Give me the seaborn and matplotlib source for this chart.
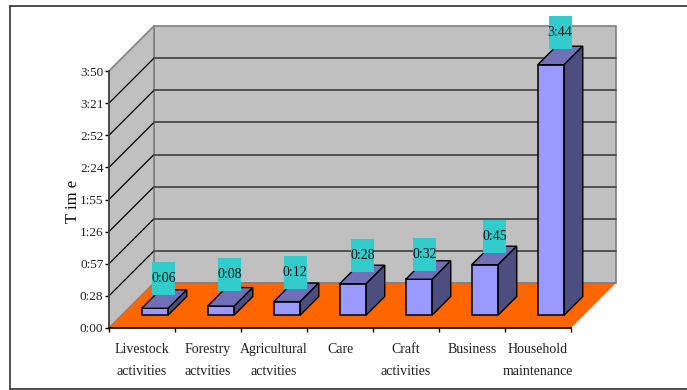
import matplotlib
matplotlib.use("Agg")
import matplotlib.pyplot as plt
from matplotlib.patches import Polygon, Rectangle
import pandas as pd
import seaborn as sns

categories = ["Livestock\nactivities", "Forestry\nactvities", "Agricultural\nactvities", "Care",
              "Craft\nactivities", "Business", "Household\nmaintenance"]
minutes = [6, 8, 12, 28, 32, 45, 224]
value_labels = ["0:06", "0:08", "0:12", "0:28", "0:32", "0:45", "3:44"]
tick_minutes = [0, 28.75, 57.5, 86.25, 115, 143.75, 172.5, 201.25, 230]
tick_labels = ["0:00", "0:28", "0:57", "1:26", "1:55", "2:24", "2:52", "3:21", "3:50"]

# Placement of each value tag relative to its bar's front top edge, in pixels
tag_shift = [8.5, 8.5, 8, 9.5, 5.5, 9.5, 9]
tag_rise = [30, 31.5, 29, 28, 24.5, 28.5, 32.5]

W, H = 687, 390
sns.set_theme(style="white")
plt.rcParams["font.family"] = ["Liberation Serif", "DejaVu Serif"]

fig = plt.figure(figsize=(W / 100, H / 100), dpi=100)
ax = fig.add_axes([109 / W, 1 - 328 / H, 462 / W, 257 / H])
frame = pd.DataFrame({"category": categories, "minutes": minutes})
sns.barplot(data=frame, x="category", y="minutes", order=categories, width=26.5 / 66,
            color="#9999FF", saturation=1, edgecolor="black", linewidth=1.1, ax=ax, zorder=6,
            clip_on=False)
ax.set_xlim(-0.5, 6.5)
ax.set_ylim(0, 230)

# Pixel lengths expressed in data units, for the oblique projection
PX = 7 / 462
PY = 230 / 257


def project(x, y, depth):
    return (x + depth * PX, y + depth * PY)


def face(points, color, z, edge="black", lw=1.0):
    ax.add_patch(Polygon(points, closed=True, facecolor=color, edgecolor=edge, linewidth=lw,
                         zorder=z, clip_on=False))


# Walls and floor
WALL = 45
x0, x1 = -0.5, 6.5
face([project(x0, 0, WALL), project(x1, 0, WALL), project(x1, 230, WALL), project(x0, 230, WALL)],
     "#C0C0C0", 1, "#808080", 1.2)
face([(x0, 0), project(x0, 0, WALL), project(x0, 230, WALL), (x0, 230)], "#C0C0C0", 1, "#808080", 1.2)
face([(x0, 0), (x1, 0), project(x1, 0, WALL), project(x0, 0, WALL)], "#FF6600", 3, "none", 0)

# Gridlines run along the left wall and across the back wall
for t in tick_minutes[1:-1]:
    ax.plot(*zip((x0, t), project(x0, t, WALL)), color="black", lw=0.9, zorder=2, clip_on=False)
    ax.plot(*zip(project(x0, t, WALL), project(x1, t, WALL)), color="#505050", lw=1.4, zorder=2,
            clip_on=False)
ax.plot(*zip(project(x0, 0, WALL), project(x1, 0, WALL)), color="#808080", lw=1.2, zorder=4, clip_on=False)

# Front faces sit partway into the floor; top, side and value tag follow from each bar
BAR_INSET = 13
BAR_DEPTH = 18.5
for bar, value, label, shift, rise in zip(ax.patches, minutes, value_labels, tag_shift, tag_rise):
    bar.set_x(bar.get_x() + BAR_INSET * PX)
    bar.set_y(BAR_INSET * PY)
    left, right = bar.get_x(), bar.get_x() + bar.get_width()
    top = bar.get_y() + value
    base = bar.get_y()
    face([(left, top), (right, top), project(right, top, BAR_DEPTH), project(left, top, BAR_DEPTH)],
         "#7070B8", 7)
    face([(right, base), project(right, base, BAR_DEPTH), project(right, top, BAR_DEPTH), (right, top)],
         "#4D4D80", 7)
    cx = (left + right) / 2 + shift * PX
    cy = top + rise * PY
    ax.add_patch(Rectangle((cx - 11.5 * PX, cy - 16.5 * PY), 23 * PX, 33 * PY, facecolor="#33CCCC",
                           edgecolor="none", zorder=9, clip_on=False))
    ax.text(cx, cy, label, ha="center", va="center", fontsize=10, color="#101010", zorder=10)

# Axes: spines, ticks and labels
for name in ["top", "right"]:
    ax.spines[name].set_visible(False)
ax.spines["left"].set_color("#404040")
ax.spines["left"].set_linewidth(1.2)
ax.spines["bottom"].set_color("black")
ax.spines["bottom"].set_linewidth(1.2)
ax.spines["left"].set_zorder(5)
ax.spines["bottom"].set_zorder(5)
ax.set_yticks(tick_minutes, tick_labels, fontsize=9.5, color="#202020")
ax.set_xticks([i + 0.5 for i in range(-1, 7)], [""] * 8)
ax.tick_params(axis="both", length=3, width=1.0, color="black", left=True, bottom=True, pad=1)
ax.set_xlabel("")
ax.set_ylabel("")
for i, name in enumerate(categories):
    ax.text(i, -13, name, ha="center", va="top", fontsize=10, color="#202020", linespacing=1.9)
fig.text(73 / W, 1 - 201 / H, "T im e", rotation=90, ha="center", va="center", fontsize=12, color="#101010")

# Outer border of the figure
fig.add_artist(plt.Line2D([9.5 / W, 1], [1 - 5.5 / H] * 2, color="#303030", lw=1.2))
fig.add_artist(plt.Line2D([9.5 / W, 1], [1 - 389 / H] * 2, color="#303030", lw=1.2))
fig.add_artist(plt.Line2D([9.5 / W] * 2, [1 - 5.5 / H, 1 - 389 / H], color="#303030", lw=1.2))

fig.savefig("out.png", dpi=100)
